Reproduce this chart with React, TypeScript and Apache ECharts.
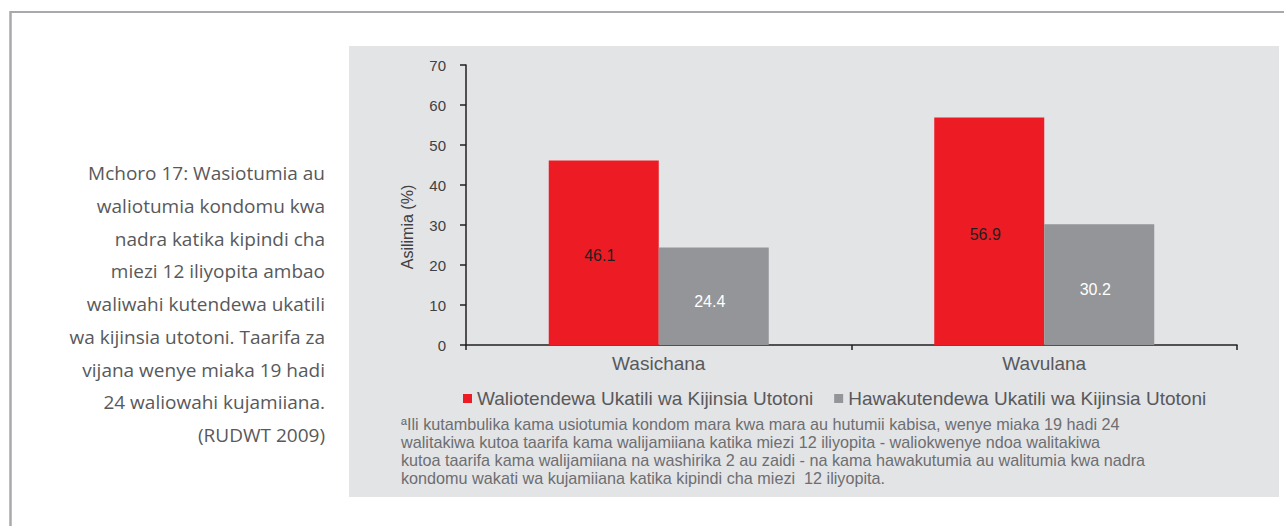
import React, { useEffect, useRef } from "react";
import * as echarts from "echarts";

const categories = ["Wasichana", "Wavulana"];
const seriesNames = [
  "Waliotendewa Ukatili wa Kijinsia Utotoni",
  "Hawakutendewa Ukatili wa Kijinsia Utotoni",
];
const abusedValues = [46.1, 56.9];
const notAbusedValues = [24.4, 30.2];
const yTicks = { min: 0, max: 70, interval: 10 };
const axisTitle = "Asilimia (%)";
const captionLines = [
  "Mchoro 17: Wasiotumia au",
  "waliotumia kondomu kwa",
  "nadra katika kipindi cha",
  "miezi 12 iliyopita ambao",
  "waliwahi kutendewa ukatili",
  "wa kijinsia utotoni. Taarifa za",
  "vijana wenye miaka 19 hadi",
  "24 waliowahi kujamiiana.",
  "(RUDWT 2009)",
];
const footnoteLines = [
  "ªIli kutambulika kama usiotumia kondom mara kwa mara au hutumii kabisa, wenye miaka 19 hadi 24",
  "walitakiwa kutoa taarifa kama walijamiiana katika miezi 12 iliyopita - waliokwenye ndoa walitakiwa",
  "kutoa taarifa kama walijamiiana na washirika 2 au zaidi - na kama hawakutumia au walitumia kwa nadra",
  "kondomu wakati wa kujamiiana katika kipindi cha miezi  12 iliyopita.",
];

const RED = "#ed1c24";
const GRAY = "#939598";
const FONT = "'Liberation Sans', Arial, sans-serif";

export default function App() {
  const ref = useRef<HTMLDivElement>(null);
  useEffect(() => {
    if (!ref.current) return;
    const chart = echarts.init(ref.current, undefined, { renderer: "svg" });
    chart.setOption({
      animation: false,
      backgroundColor: "#ffffff",
      textStyle: { fontFamily: FONT },
      graphic: [
        {
          type: "rect",
          z: -10,
          silent: true,
          shape: { x: 349, y: 46, width: 930, height: 451 },
          style: { fill: "#e3e4e6" },
        },
        {
          type: "line",
          silent: true,
          shape: { x1: 10, y1: 12, x2: 1284, y2: 12 },
          style: { stroke: "#a7a9ac", lineWidth: 2 },
        },
        {
          type: "line",
          silent: true,
          shape: { x1: 10.5, y1: 11, x2: 10.5, y2: 526 },
          style: { stroke: "#a7a9ac", lineWidth: 2.5 },
        },
        {
          type: "text",
          silent: true,
          x: 325,
          y: 157,
          style: {
            text: captionLines.join("\n"),
            align: "right",
            verticalAlign: "top",
            fontFamily: "'Open Sans', 'Noto Sans', sans-serif",
            fontSize: 19,
            lineHeight: 32.7,
            fill: "#58595b",
          },
        },
        {
          type: "text",
          silent: true,
          x: 407,
          y: 227,
          rotation: Math.PI / 2,
          style: {
            text: axisTitle,
            align: "center",
            verticalAlign: "middle",
            fontFamily: FONT,
            fontSize: 16,
            fill: "#414042",
          },
        },
        {
          type: "text",
          silent: true,
          x: 401,
          y: 414.5,
          style: {
            text: footnoteLines.join("\n"),
            align: "left",
            verticalAlign: "top",
            fontFamily: FONT,
            fontSize: 16.2,
            lineHeight: 18,
            fill: "#6d6e71",
          },
        },
      ],
      grid: { left: 466, right: 47, top: 65, bottom: 181, containLabel: false },
      legend: {
        left: 458,
        top: 384,
        icon: "rect",
        itemWidth: 9,
        itemHeight: 9,
        itemGap: 21,
        textStyle: {
          fontFamily: FONT,
          fontSize: 19,
          color: "#58595b",
        },
        data: seriesNames,
      },
      xAxis: {
        type: "category",
        data: categories,
        axisLine: { show: true, lineStyle: { color: "#231f20", width: 1.5 } },
        axisTick: { show: true, length: 5, alignWithLabel: false, lineStyle: { color: "#231f20", width: 1.5 } },
        axisLabel: { fontFamily: FONT, fontSize: 19, color: "#58595b", margin: 9 },
        splitLine: { show: false },
      },
      yAxis: {
        type: "value",
        min: yTicks.min,
        max: yTicks.max,
        interval: yTicks.interval,
        axisLine: { show: true, lineStyle: { color: "#231f20", width: 1.5 } },
        axisTick: { show: true, length: 6, inside: false, lineStyle: { color: "#231f20", width: 1.5 } },
        axisLabel: { fontFamily: FONT, fontSize: 15, color: "#414042", margin: 20 },
        splitLine: { show: false },
      },
      series: [
        {
          name: seriesNames[0],
          type: "bar",
          data: abusedValues,
          barWidth: 110,
          barGap: "0%",
          itemStyle: { color: RED },
          label: {
            show: true,
            position: "inside",
            offset: [-4, 3],
            fontFamily: FONT,
            fontSize: 16,
            color: "#231f20",
            formatter: (p: any) => p.value.toFixed(1),
          },
        },
        {
          name: seriesNames[1],
          type: "bar",
          data: notAbusedValues,
          barWidth: 110,
          barGap: "0%",
          itemStyle: { color: GRAY },
          label: {
            show: true,
            position: "inside",
            offset: [-4, 5],
            fontFamily: FONT,
            fontSize: 16,
            color: "#ffffff",
            formatter: (p: any) => p.value.toFixed(1),
          },
        },
      ],
    });
    return () => chart.dispose();
  }, []);
  return (
    <div
      ref={ref}
      style={{ position: "fixed", left: 0, top: 0, width: 1284, height: 526, background: "#fff" }}
    />
  );
}
